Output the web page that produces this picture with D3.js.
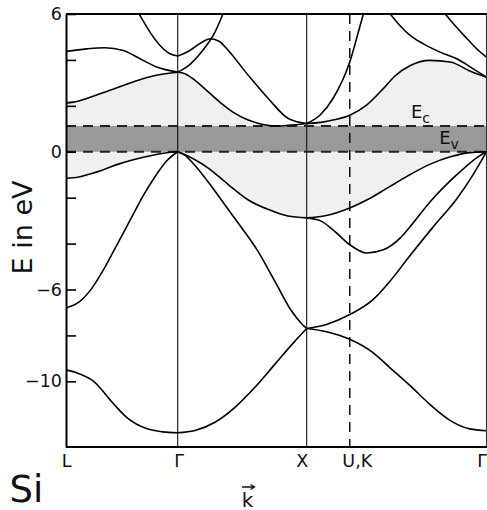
<!DOCTYPE html>
<html>
<head>
<meta charset="utf-8">
<script src="https://cdn.jsdelivr.net/npm/d3@7"></script>
<style>
  html, body { margin: 0; padding: 0; background: #fff; }
  svg { display: block; font-family: "DejaVu Sans", sans-serif; }
</style>
</head>
<body>
<svg id="chart" width="487" height="510"></svg>
<script>
// high symmetry points on the k path
const kLabels = ["L", "Γ", "X", "U,K", "Γ"];
const kTicks = [0, 0.866, 1.866, 2.2, 3.26];

// energy axis in eV
const eTicks = [-10, -8, -6, -4, -2, 0, 2, 4, 6];
const eTickLabels = ["−10", "", "−6", "", "", "0", "", "", "6"];

// valence top / conduction bottom
const gapEdges = [0, 1.12];
const gapNames = ["v", "c"];

// L -> Γ
const lgV1 = [[0, -9.5], [0.08, -9.62], [0.21, -9.98], [0.37, -10.99], [0.47, -11.57], [0.63, -12.07], [0.75, -12.2], [0.866, -12.24]];
const lgV2 = [[0, -6.8], [0.1, -6.55], [0.2, -5.95], [0.3, -5.05], [0.4, -4.0], [0.5, -2.95], [0.6, -1.9], [0.7, -1.0], [0.78, -0.4], [0.866, 0]];
const lgV34 = [[0, -1.16], [0.1, -1.1], [0.2, -0.95], [0.3, -0.76], [0.4, -0.55], [0.5, -0.38], [0.6, -0.24], [0.7, -0.12], [0.8, -0.03], [0.866, 0]];
const lgC5 = [[0, 2.13], [0.06, 2.16], [0.16, 2.32], [0.34, 2.68], [0.52, 3.04], [0.7, 3.33], [0.866, 3.46]];
const lgC67 = [[0, 4.37], [0.16, 4.48], [0.3, 4.53], [0.445, 4.41], [0.574, 4.05], [0.703, 3.69], [0.866, 3.47]];
const lgC8 = [[0.53, 6.35], [0.574, 5.93], [0.651, 5.21], [0.729, 4.63], [0.806, 4.27], [0.866, 4.17]];

// Γ -> X
const gxV1 = [[0.866, -12.24], [1.0, -12.14], [1.155, -11.78], [1.31, -11.13], [1.465, -10.26], [1.62, -9.25], [1.775, -8.25], [1.866, -7.7]];
const gxV2 = [[0.866, 0], [0.92, -0.15], [1.0, -0.6], [1.1, -1.3], [1.23, -2.3], [1.36, -3.3], [1.49, -4.35], [1.62, -5.65], [1.75, -6.95], [1.82, -7.45], [1.866, -7.7]];
const gxV34 = [[0.866, 0], [0.92, -0.12], [1.0, -0.35], [1.1, -0.7], [1.26, -1.44], [1.41, -2.09], [1.57, -2.52], [1.72, -2.8], [1.866, -2.88]];
const gxC5 = [[0.866, 3.46], [0.922, 3.4], [1.0, 3.11], [1.103, 2.61], [1.207, 2.1], [1.31, 1.67], [1.413, 1.38], [1.517, 1.2], [1.63, 1.12], [1.723, 1.15], [1.866, 1.23]];
const gxC6 = [[0.866, 4.17], [0.95, 4.38], [1.04, 4.72], [1.12, 4.92], [1.19, 4.8], [1.258, 4.41], [1.413, 3.33], [1.568, 2.32], [1.723, 1.45], [1.866, 1.23]];
const gxC7 = [[0.866, 3.47], [0.95, 3.75], [1.05, 4.34], [1.155, 5.21], [1.233, 6.22], [1.3, 7.1]];

// X -> U,K -> Γ
const xgV1 = [[1.866, -7.7], [2.02, -7.84], [2.2, -8.17], [2.38, -8.75], [2.51, -9.4], [2.67, -10.2], [2.82, -11.0], [2.98, -11.71], [3.13, -12.07], [3.26, -12.15]];
const xgV2 = [[1.866, -7.7], [2.02, -7.52], [2.2, -7.09], [2.38, -6.44], [2.51, -5.65], [2.67, -4.5], [2.85, -3.25], [3.03, -2.05], [3.15, -1.05], [3.26, 0]];
const xgV3 = [[1.866, -2.88], [1.97, -3.0], [2.07, -3.4], [2.2, -4.05], [2.33, -4.41], [2.46, -4.27], [2.59, -3.76], [2.67, -3.25], [2.82, -2.2], [3.03, -1.0], [3.2, -0.2], [3.26, 0]];
const xgV4 = [[1.866, -2.88], [2.0, -2.8], [2.2, -2.45], [2.35, -2.05], [2.5, -1.55], [2.65, -1.05], [2.82, -0.55], [2.98, -0.22], [3.13, -0.04], [3.26, 0]];
const xgC5 = [[1.866, 1.23], [2.0, 1.3], [2.07, 1.38], [2.2, 1.59], [2.33, 2.03], [2.46, 2.75], [2.55, 3.3], [2.67, 3.76], [2.82, 3.98], [2.98, 3.91], [3.13, 3.52], [3.26, 3.25]];
const xgC6 = [[1.866, 1.23], [1.97, 1.6], [2.07, 2.32], [2.2, 3.91], [2.28, 5.49], [2.34, 6.7]];
const xgC7 = [[2.46, 6.35], [2.52, 5.96], [2.59, 5.49], [2.67, 5.06], [2.77, 4.7], [2.9, 4.34], [3.03, 4.05], [3.16, 3.6], [3.26, 3.25]];
const xgC8 = [[2.9, 6.3], [2.95, 5.93], [3.11, 4.92], [3.2, 4.4], [3.26, 4.12]];

const bands = [lgV1, lgV2, lgV34, lgC5, lgC67, lgC8,
               gxV1, gxV2, gxV34, gxC5, gxC6, gxC7,
               xgV1, xgV2, xgV3, xgV4, xgC5, xgC6, xgC7, xgC8];
// [valence top, conduction bottom] for the shaded gap region
const gapRegions = [[lgV34, lgC5], [gxV34, gxC5], [xgV4, xgC5]];

const margin = {top: 14, right: 0.5, bottom: 63, left: 66};
const width = 487 - margin.left - margin.right;
const height = 510 - margin.top - margin.bottom;

const svg = d3.select('#chart');
const g = svg.append('g').attr('transform', 'translate(' + margin.left + ',' + margin.top + ')');

const x = d3.scaleLinear().domain([0, 3.26]).range([0, width]);
const y = d3.scaleLinear().domain([-12.86, 6]).range([height, 0]);

const line = d3.line()
    .x(d => x(d[0]))
    .y(d => y(d[1]))
    .curve(d3.curveMonotoneX);

g.append('clipPath').attr('id', 'plotclip')
  .append('rect').attr('width', width).attr('height', height);

const plot = g.append('g').attr('clip-path', 'url(#plotclip)');

// light grey between valence top and conduction bottom
gapRegions.forEach(([lower, upper]) => {
  const top = line(upper);
  const bottom = line(lower.slice().reverse());
  plot.append('path')
    .attr('d', top + 'L' + bottom.slice(1) + 'Z')
    .attr('fill', '#f0f0f0')
    .attr('stroke', 'none');
});

// band gap strip
plot.append('rect')
  .attr('x', 0)
  .attr('width', width)
  .attr('y', y(gapEdges[1]))
  .attr('height', y(gapEdges[0]) - y(gapEdges[1]))
  .attr('fill', '#999999');

// vertical lines at symmetry points
kTicks.forEach((k, i) => {
  if (i === 0 || i === kTicks.length - 1) return;
  plot.append('line')
    .attr('x1', x(k)).attr('x2', x(k))
    .attr('y1', 0).attr('y2', height)
    .attr('stroke', '#111')
    .attr('stroke-width', kLabels[i] === 'U,K' ? 1.5 : 1.1)
    .attr('stroke-dasharray', kLabels[i] === 'U,K' ? '10,7' : null);
});

// Ev / Ec dashed lines
gapEdges.forEach(e => {
  plot.append('line')
    .attr('x1', 0).attr('x2', width)
    .attr('y1', y(e)).attr('y2', y(e))
    .attr('stroke', '#222')
    .attr('stroke-width', 2)
    .attr('stroke-dasharray', '10,7');
});

bands.forEach(b => {
  plot.append('path')
    .datum(b)
    .attr('fill', 'none')
    .attr('stroke', '#000')
    .attr('stroke-width', 1.6)
    .attr('d', line);
});

// right border at Γ
g.append('line')
  .attr('x1', width).attr('x2', width)
  .attr('y1', 0).attr('y2', height)
  .attr('stroke', '#333').attr('stroke-width', 1.1);

// top border
g.append('line')
  .attr('x1', 0).attr('x2', width + 1)
  .attr('y1', 0).attr('y2', 0)
  .attr('stroke', '#000').attr('stroke-width', 2);

const yAxis = g.append('g')
  .call(d3.axisLeft(y)
    .tickValues(eTicks)
    .tickSizeInner(-10)
    .tickSizeOuter(0)
    .tickPadding(4)
    .tickFormat((d, i) => eTickLabels[i]));
yAxis.select('.domain').attr('stroke-width', 2);
yAxis.selectAll('.tick line').attr('stroke-width', 1.6);
yAxis.selectAll('text').attr('font-size', 17.5).attr('font-family', '"DejaVu Sans", sans-serif').attr('fill', '#111');

// last Γ sits on the right edge, pull it in so it stays readable
const labelNudge = ['0', '1', '-5', '7', '-5'];
const xAxis = g.append('g')
  .attr('transform', 'translate(0,' + height + ')')
  .call(d3.axisBottom(x)
    .tickValues(kTicks)
    .tickSize(0)
    .tickPadding(8)
    .tickFormat(d => kLabels[kTicks.indexOf(d)]));
xAxis.select('.domain').attr('stroke-width', 2).attr('d', 'M0,0H' + (width + 1));
xAxis.selectAll('text')
  .attr('font-size', 17.5)
  .attr('font-family', '"DejaVu Sans", sans-serif')
  .attr('fill', '#111')
  .attr('dx', d => labelNudge[kTicks.indexOf(d)]);

// E_v and E_c labels
const gapLabelK = [2.893, 2.674];
gapEdges.forEach((e, i) => {
  const t = g.append('text')
    .attr('x', x(gapLabelK[i]))
    .attr('y', y(e) - 8)
    .attr('font-size', 18)
    .attr('fill', '#111');
  t.append('tspan').text('E');
  t.append('tspan').attr('font-size', 14).attr('dy', 4.8).text(gapNames[i]);
});

// axis titles
svg.append('text')
  .attr('transform', 'translate(31.7,227.5) rotate(-90)')
  .attr('text-anchor', 'middle')
  .attr('font-size', 27)
  .attr('fill', '#111')
  .text('E in eV');

svg.append('text')
  .attr('x', 9.5).attr('y', 501.7)
  .attr('font-size', 37)
  .attr('fill', '#111')
  .text('Si');

svg.append('text')
  .attr('x', 247.5).attr('y', 506.5)
  .attr('text-anchor', 'middle')
  .attr('font-size', 20)
  .attr('fill', '#111')
  .text('k');
svg.append('path')
  .attr('d', 'M242,487H254M250.5,484.5L254.5,487L250.5,489.5')
  .attr('fill', 'none')
  .attr('stroke', '#111')
  .attr('stroke-width', 1.3);
</script>
</body>
</html>
